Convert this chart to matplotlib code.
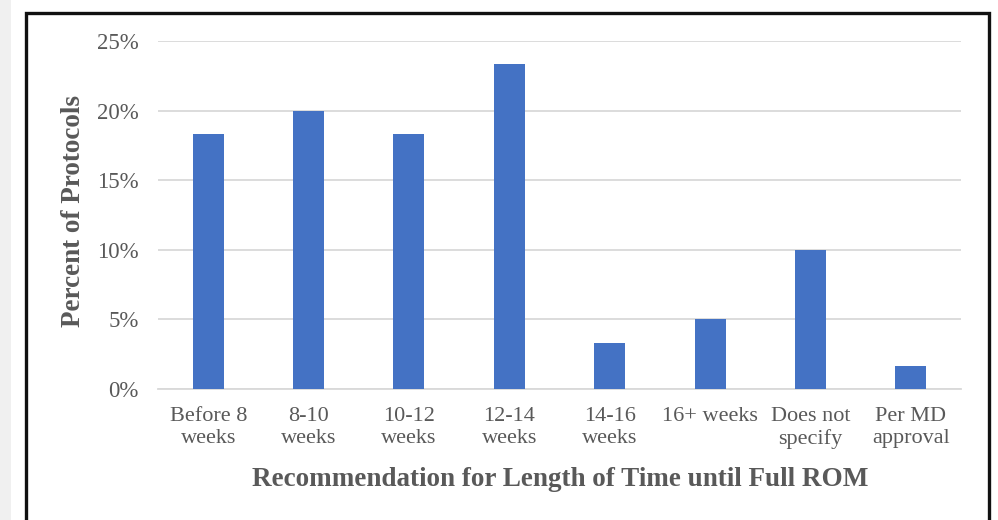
import matplotlib
matplotlib.use("Agg")
import matplotlib.pyplot as plt
from matplotlib.patches import Rectangle
from matplotlib.ticker import FuncFormatter

categories = ["Before 8\nweeks", "8-10\nweeks", "10-12\nweeks", "12-14\nweeks",
              "14-16\nweeks", "16+ weeks", "Does not\nspecify", "Per MD\napproval"]
values = [18.33, 20.0, 18.33, 23.33, 3.33, 5.0, 10.0, 1.67]
yticks = [0, 5, 10, 15, 20, 25]

W, H = 998, 520
fig = plt.figure(figsize=(W / 100, H / 100), dpi=100)
fig.patch.set_facecolor("white")

# left gray strip and black frame
fig.patches.append(Rectangle((0, 0), 11 / W, 1, transform=fig.transFigure,
                             facecolor="#f0f0f0", edgecolor="none", zorder=0))
fig.patches.append(Rectangle((26 / W, -0.05), (989 - 26) / W, 1.05 - 13 / H,
                             transform=fig.transFigure, facecolor="none",
                             edgecolor="#111111", linewidth=2.4, zorder=1))

ax = fig.add_axes([158 / W, (H - 389) / H, (961 - 158) / W, (389 - 41) / H])
serif = ["Liberation Serif", "DejaVu Serif"]
gray = "#595959"

x = list(range(len(categories)))
ax.bar(x, values, width=0.31, color="#4472C4", zorder=3)
ax.set_xlim(-0.5, len(categories) - 0.5)
ax.set_ylim(0, 25)
ax.set_yticks(yticks)
ax.yaxis.set_major_formatter(FuncFormatter(lambda v, p: f"{int(v)}%"))
ax.set_xticks(x)
ax.set_xticklabels(categories, fontfamily=serif, fontsize=16, color=gray,
                   linespacing=1.2)
for lab in ax.get_yticklabels():
    lab.set_fontfamily(serif)
    lab.set_fontsize(16.5)
    lab.set_color(gray)
ax.tick_params(axis="both", length=0)
ax.tick_params(axis="y", pad=14)
ax.tick_params(axis="x", pad=13)
ax.grid(axis="y", color="#d9d9d9", linewidth=1.3, zorder=0)
for s in ["top", "right", "left"]:
    ax.spines[s].set_visible(False)
ax.spines["bottom"].set_color("#d9d9d9")
ax.spines["bottom"].set_linewidth(1.3)

fig.text(73 / W, 1 - 211 / H, "Percent of Protocols", rotation=90,
         ha="center", va="center", fontfamily=serif, fontsize=19.5,
         fontweight="bold", color=gray)
fig.text(560 / W, 1 - 479 / H, "Recommendation for Length of Time until Full ROM",
         ha="center", va="center", fontfamily=serif, fontsize=19.5,
         fontweight="bold", color=gray)

fig.savefig("out.png", dpi=100, facecolor="white")
